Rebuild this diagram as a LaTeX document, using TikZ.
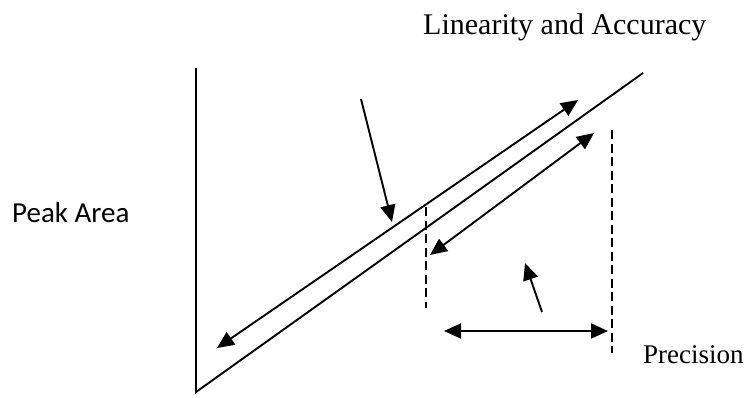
\documentclass[tikz,border=0pt]{standalone}
\usepackage{fontspec}
\setmainfont{Liberation Serif}
\newfontfamily\calibrifont{Carlito}
\usetikzlibrary{arrows.meta}
\tikzset{
  plotline/.style={line width=1.9pt},
  dblarrow/.style={line width=1.9pt,{Triangle[length=17pt,width=15pt]}-{Triangle[length=17pt,width=15pt]}},
  ptrarrow/.style={line width=1.9pt,-{Triangle[length=17pt,width=15pt]}},
  guideline/.style={line width=1.9pt,dash pattern=on 9pt off 4.5pt},
}

\begin{document}
\begin{tikzpicture}[x=1pt,y=-1pt]
  \useasboundingbox (0,0) rectangle (747,397);
  % axis and response line
  \coordinate (ytop) at (196,68);
  \coordinate (orig) at (196,392);
  \coordinate (lineend) at (643,73);
  \draw[plotline] (ytop) -- (orig) -- (lineend);
  % range arrows
  \coordinate (upa) at (217,348);
  \coordinate (upb) at (578,100);
  \coordinate (loa) at (430,255);
  \coordinate (lob) at (594,133);
  \draw[dblarrow] (upa) -- (upb);
  \draw[dblarrow] (loa) -- (lob);
  % dashed limits
  \coordinate (lima) at (426,207);
  \coordinate (limb) at (426,308);
  \coordinate (limc) at (612,130);
  \coordinate (limd) at (612,353);
  \draw[guideline] (lima) -- (limb);
  \draw[guideline] (limc) -- (limd);
  % pointers
  \coordinate (ptra) at (361,99);
  \coordinate (ptrat) at (392,222);
  \coordinate (ptrb) at (542,312);
  \coordinate (ptrbt) at (525,263);
  \draw[ptrarrow] (ptra) -- (ptrat);
  \draw[ptrarrow] (ptrb) -- (ptrbt);
  \coordinate (spana) at (444,331);
  \coordinate (spanb) at (608,331);
  \draw[dblarrow] (spana) -- (spanb);
  % labels
  \node[anchor=base west,inner sep=0pt,font=\fontsize{30}{36}\selectfont] (linacc) at (423,34) {Linearity and Accuracy};
  \node[anchor=base west,inner sep=0pt,font=\calibrifont\fontsize{29}{35}\selectfont] (peak) at (12,222) {Peak Area};
  \node[anchor=base west,inner sep=0pt,font=\fontsize{27}{32}\selectfont] (prec) at (643,363) {Precision};
\end{tikzpicture}
\end{document}
